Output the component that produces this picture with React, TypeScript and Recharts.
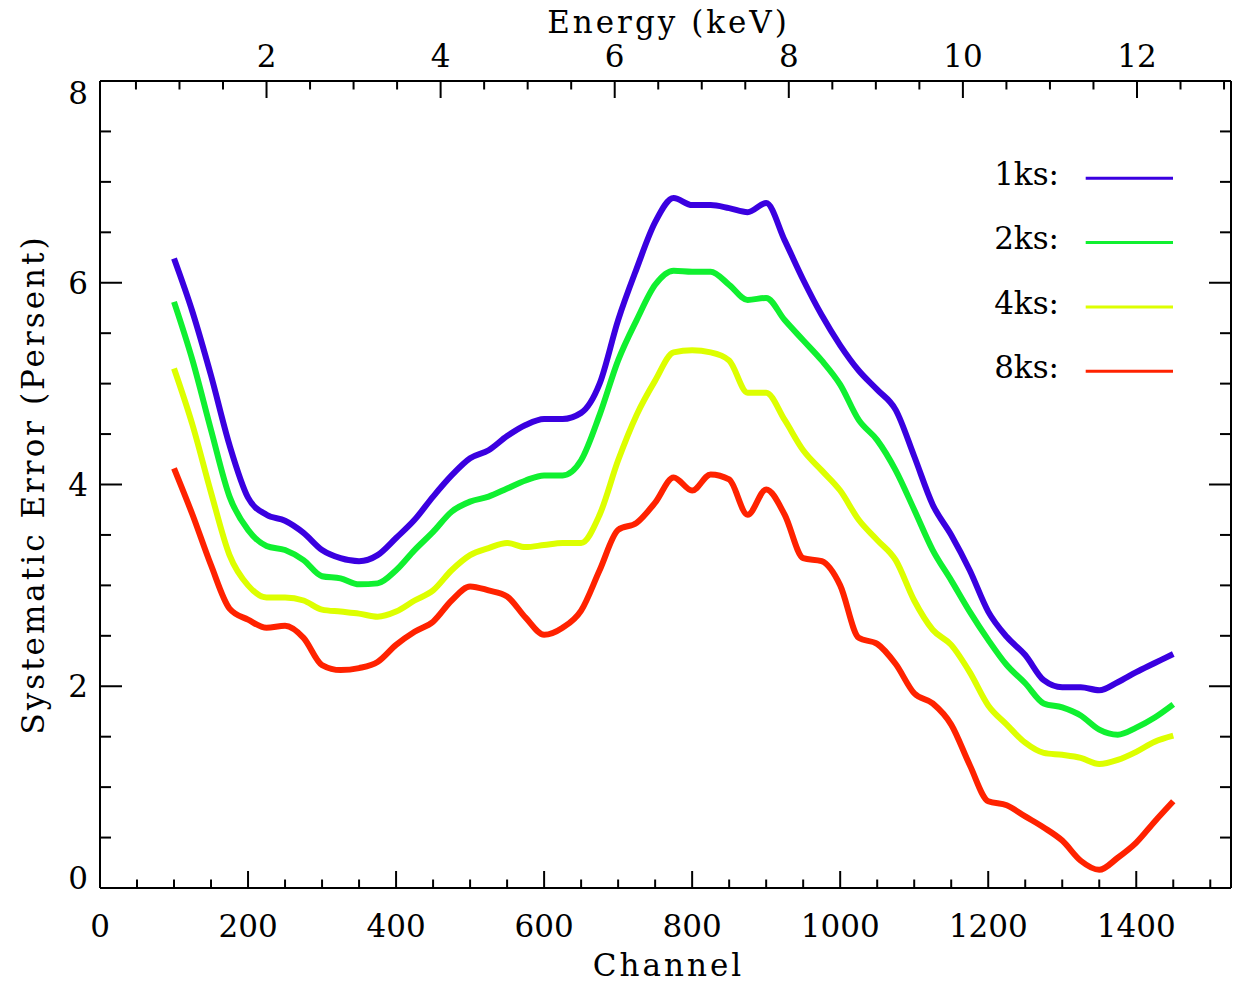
import { LineChart, Line, XAxis, YAxis, Legend } from "recharts";

const channels = [
  100, 125, 150, 175, 200, 225, 250, 275, 300, 325, 350, 375, 400, 425, 450,
  475, 500, 525, 550, 575, 600, 625, 650, 675, 700, 725, 750, 775, 800, 825,
  850, 875, 900, 925, 950, 975, 1000, 1025, 1050, 1075, 1100, 1125, 1150,
  1175, 1200, 1225, 1250, 1275, 1300, 1325, 1350, 1375, 1400, 1425, 1450,
];

const err1ks = [
  6.24, 5.71, 5.08, 4.39, 3.87, 3.7, 3.64, 3.52, 3.35, 3.27, 3.24, 3.3, 3.47,
  3.65, 3.88, 4.09, 4.26, 4.34, 4.48, 4.59, 4.65, 4.65, 4.71, 5.0, 5.63, 6.14,
  6.6, 6.84, 6.77, 6.77, 6.74, 6.7, 6.79, 6.42, 6.03, 5.68, 5.38, 5.13, 4.94,
  4.74, 4.28, 3.8, 3.5, 3.15, 2.74, 2.49, 2.31, 2.06, 1.99, 1.99, 1.96, 2.04,
  2.14, 2.23, 2.32,
];

const err2ks = [
  5.81, 5.23, 4.54, 3.88, 3.55, 3.39, 3.35, 3.25, 3.09, 3.07, 3.01, 3.02, 3.15,
  3.35, 3.53, 3.73, 3.83, 3.88, 3.96, 4.04, 4.09, 4.09, 4.24, 4.69, 5.23, 5.63,
  5.98, 6.12, 6.11, 6.11, 5.98, 5.83, 5.85, 5.63, 5.43, 5.23, 4.99, 4.64, 4.44,
  4.14, 3.75, 3.35, 3.05, 2.74, 2.46, 2.21, 2.03, 1.83, 1.79, 1.71, 1.57, 1.52,
  1.59, 1.69, 1.82,
];

const err4ks = [
  5.15, 4.59, 3.92, 3.3, 3.0, 2.88, 2.88, 2.85, 2.76, 2.74, 2.72, 2.69, 2.74,
  2.85, 2.95, 3.15, 3.3, 3.37, 3.42, 3.38, 3.4, 3.42, 3.42, 3.7, 4.24, 4.69,
  5.03, 5.31, 5.33, 5.31, 5.23, 4.91, 4.91, 4.64, 4.34, 4.14, 3.94, 3.65, 3.45,
  3.25, 2.85, 2.56, 2.41, 2.14, 1.81, 1.62, 1.44, 1.34, 1.32, 1.29, 1.23, 1.27,
  1.35, 1.45, 1.51,
];

const err8ks = [
  4.16, 3.7, 3.2, 2.77, 2.66, 2.58, 2.6, 2.48, 2.21, 2.16, 2.18, 2.24, 2.41,
  2.54, 2.64, 2.85, 2.99, 2.95, 2.89, 2.68, 2.51, 2.58, 2.75, 3.15, 3.55, 3.62,
  3.82, 4.07, 3.94, 4.1, 4.05, 3.7, 3.95, 3.7, 3.27, 3.24, 3.0, 2.48, 2.42,
  2.22, 1.93, 1.83, 1.62, 1.22, 0.86, 0.82, 0.71, 0.6, 0.47, 0.27, 0.18, 0.3,
  0.45, 0.66, 0.86,
];

const seriesKeys = ["k1", "k2", "k4", "k8"];
const seriesNames = ["1ks:", "2ks:", "4ks:", "8ks:"];
const seriesColors = ["#3a00e0", "#10f030", "#ddff00", "#ff2200"];

const channelTicks = [
  0, 50, 100, 150, 200, 250, 300, 350, 400, 450, 500, 550, 600, 650, 700, 750,
  800, 850, 900, 950, 1000, 1050, 1100, 1150, 1200, 1250, 1300, 1350, 1400,
  1450, 1500,
];
const channelLabels = [0, 200, 400, 600, 800, 1000, 1200, 1400];

const energyTicks = [
  0.5, 1, 1.5, 2, 2.5, 3, 3.5, 4, 4.5, 5, 5.5, 6, 6.5, 7, 7.5, 8, 8.5, 9, 9.5,
  10, 10.5, 11, 11.5, 12, 12.5, 13,
];
const energyLabels = [2, 4, 6, 8, 10, 12];

const errorTicks = [
  0, 0.5, 1, 1.5, 2, 2.5, 3, 3.5, 4, 4.5, 5, 5.5, 6, 6.5, 7, 7.5, 8,
];
const errorLabels = [0, 2, 4, 6, 8];

// channel range of the frame and the energy that sits at each end of it
const CH_MAX = 1528;
const E_MIN = 0.087;
const E_MAX = 13.08;
const energyToChannel = (e: number) => ((e - E_MIN) * CH_MAX) / (E_MAX - E_MIN);
const channelToEnergy = (c: number) => E_MIN + (c * (E_MAX - E_MIN)) / CH_MAX;

const data = channels.map((ch, i) => ({
  ch,
  k1: err1ks[i],
  k2: err2ks[i],
  k4: err4ks[i],
  k8: err8ks[i],
}));

const FONT = "'DejaVu Serif', serif";
const FS = 31;

const BottomTick = (props: any) => {
  const { x, y, payload } = props;
  const major = channelLabels.includes(payload.value);
  return (
    <g>
      <line x1={x} x2={x} y1={y} y2={y - (major ? 17 : 8.5)} stroke="#000" strokeWidth={2} />
      {major && (
        <text x={x} y={y + 49} textAnchor="middle" fontFamily={FONT} fontSize={FS} fill="#000">
          {payload.value}
        </text>
      )}
    </g>
  );
};

const TopTick = (props: any) => {
  const { x, y, payload } = props;
  const e = Math.round(channelToEnergy(payload.value) * 2) / 2;
  const major = energyLabels.includes(e);
  return (
    <g>
      <line x1={x} x2={x} y1={y} y2={y + (major ? 17 : 8.5)} stroke="#000" strokeWidth={2} />
      {major && (
        <text x={x} y={y - 14} textAnchor="middle" fontFamily={FONT} fontSize={FS} fill="#000">
          {e}
        </text>
      )}
    </g>
  );
};

const LeftTick = (props: any) => {
  const { x, y, payload } = props;
  const major = errorLabels.includes(payload.value);
  // end labels are nudged inside the frame
  let dy = 11;
  if (payload.value === 0) dy = 1;
  if (payload.value === 8) dy = 23;
  return (
    <g>
      <line x1={x} x2={x + (major ? 22 : 11)} y1={y} y2={y} stroke="#000" strokeWidth={2} />
      {major && (
        <text x={x - 12} y={y + dy} textAnchor="end" fontFamily={FONT} fontSize={FS} fill="#000">
          {payload.value}
        </text>
      )}
    </g>
  );
};

const RightTick = (props: any) => {
  const { x, y, payload } = props;
  const major = errorLabels.includes(payload.value);
  return (
    <line x1={x} x2={x - (major ? 22 : 11)} y1={y} y2={y} stroke="#000" strokeWidth={2} />
  );
};

const AxisTitle = (props: any) => {
  const { viewBox, text, side } = props;
  const vb = viewBox || {};
  if (side === "left") {
    const cx = 44;
    const cy = (vb.y ?? 81) + (vb.height ?? 807) / 2;
    return (
      <text x={cx} y={cy} transform={`rotate(-90, ${cx}, ${cy})`} textAnchor="middle" fontFamily={FONT} fontSize={FS} letterSpacing={3} fill="#000">
        {text}
      </text>
    );
  }
  const cx = (vb.x ?? 100) + (vb.width ?? 1131) / 2 + 3;
  const y = side === "top" ? 33 : 976;
  return (
    <text x={cx} y={y} textAnchor="middle" fontFamily={FONT} fontSize={FS} letterSpacing={3} fill="#000">
      {text}
    </text>
  );
};

const LegendBox = () => (
  <svg width={240} height={250}>
    {seriesNames.map((name, i) => (
      <g key={name}>
        <text x={99} y={35 + i * 64.3} textAnchor="end" fontFamily={FONT} fontSize={FS} fill="#000">
          {name}
        </text>
        <line x1={125.7} x2={213} y1={28.3 + i * 64.3} y2={28.3 + i * 64.3} stroke={seriesColors[i]} strokeWidth={3} />
      </g>
    ))}
  </svg>
);

export default function App() {
  return (
    <div style={{ position: "absolute", left: 0, top: 0, width: 1235, height: 987, background: "#fff" }}>
      <LineChart width={1235} height={987} data={data} margin={{ top: 0, right: 0, bottom: 0, left: 0 }}>
        <XAxis
          xAxisId="bottom"
          dataKey="ch"
          type="number"
          domain={[0, CH_MAX]}
          allowDataOverflow
          ticks={channelTicks}
          interval={0}
          height={99}
          tickSize={0}
          tickMargin={0}
          tickLine={false}
          axisLine={{ stroke: "#000", strokeWidth: 2 }}
          tick={<BottomTick />}
          label={<AxisTitle text="Channel" side="bottom" />}
        />
        <XAxis
          xAxisId="top"
          orientation="top"
          dataKey="ch"
          type="number"
          domain={[0, CH_MAX]}
          allowDataOverflow
          ticks={energyTicks.map(energyToChannel)}
          interval={0}
          height={81}
          tickSize={0}
          tickMargin={0}
          tickLine={false}
          axisLine={{ stroke: "#000", strokeWidth: 2 }}
          tick={<TopTick />}
          label={<AxisTitle text="Energy (keV)" side="top" />}
        />
        <YAxis
          yAxisId="left"
          type="number"
          domain={[0, 8]}
          allowDataOverflow
          ticks={errorTicks}
          interval={0}
          width={100}
          tickSize={0}
          tickMargin={0}
          tickLine={false}
          axisLine={{ stroke: "#000", strokeWidth: 2 }}
          tick={<LeftTick />}
          label={<AxisTitle text="Systematic Error (Persent)" side="left" />}
        />
        <YAxis
          yAxisId="right"
          orientation="right"
          type="number"
          domain={[0, 8]}
          allowDataOverflow
          ticks={errorTicks}
          interval={0}
          width={4}
          tickSize={0}
          tickMargin={0}
          tickLine={false}
          axisLine={{ stroke: "#000", strokeWidth: 2 }}
          tick={<RightTick />}
        />
        <Legend
          layout="vertical"
          align="center"
          verticalAlign="middle"
          wrapperStyle={{ left: 960, top: 150, width: 240, height: 250 }}
          content={<LegendBox />}
        />
        {seriesKeys.map((key, i) => (
          <Line
            key={key}
            xAxisId="bottom"
            yAxisId="left"
            dataKey={key}
            name={seriesNames[i]}
            type="monotone"
            stroke={seriesColors[i]}
            strokeWidth={6}
            dot={false}
            activeDot={false}
            isAnimationActive={false}
          />
        ))}
      </LineChart>
    </div>
  );
}
